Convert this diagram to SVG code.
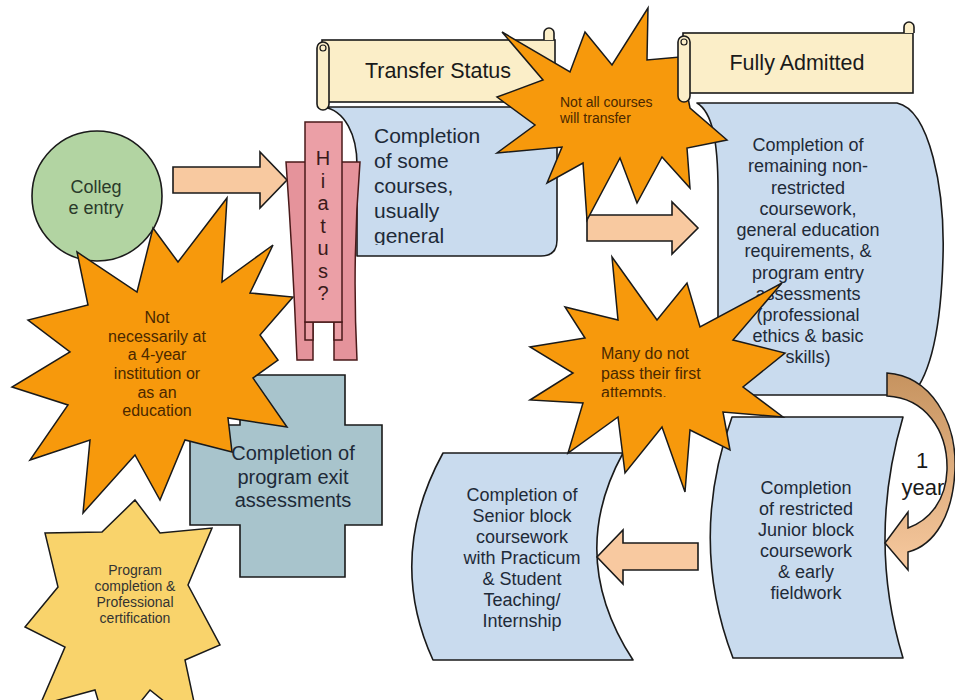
<svg xmlns="http://www.w3.org/2000/svg" width="955" height="700" viewBox="0 0 955 700">
<defs>
<style>
.t{font-family:"Liberation Sans",Arial,sans-serif}
.blue{fill:#c9dbee;stroke:#1a1a1a;stroke-width:1.6;stroke-linejoin:round}
.burst{fill:#f7990c;stroke:#1a1a1a;stroke-width:1.5;stroke-linejoin:miter}
.arrow{fill:#f8c9a0;stroke:#1a1a1a;stroke-width:1.6;stroke-linejoin:miter}
.cream{fill:#fbeec8;stroke:#1a1a1a;stroke-width:1.6}
.pink{fill:#e5939b;stroke:#4a1a1a;stroke-width:1.5}
.pink2{fill:#eb9fa6;stroke:#4a1a1a;stroke-width:1.5}
.bt{fill:#1e2a38;font-size:18px;text-anchor:middle}
.ot{fill:#4a2800}
</style>
<linearGradient id="tan" x1="0" y1="0" x2="0" y2="1">
<stop offset="0" stop-color="#c6935f"/>
<stop offset="1" stop-color="#f7c99f"/>
</linearGradient>
<clipPath id="c1"><rect x="300" y="100" width="260" height="145"/></clipPath>
<clipPath id="c3"><rect x="520" y="330" width="270" height="67"/></clipPath>
</defs>
<rect width="955" height="700" fill="#ffffff"/>

<g id="exit-assessments">
<path d="M240,375 L345,375 L345,425 L382,425 L382,525 L345,525 L345,577 L240,577 L240,525 L190,525 L190,425 L240,425 Z" fill="#a8c4cc" stroke="#1a1a1a" stroke-width="1.6"/>
<text class="t" font-size="20" fill="#1e2a38" text-anchor="middle"><tspan x="293" y="460">Completion of</tspan><tspan x="293" y="484">program exit</tspan><tspan x="293" y="507">assessments</tspan></text>
</g>

<g id="certification">
<polygon points="135,500 160,533 212,528 188,585 220,645 185,660 200,730 150,690 110,740 95,690 40,705 65,647 25,627 58,587 45,533 102,532" fill="#f9d36b" stroke="#1a1a1a" stroke-width="1.5"/>
<text class="t" font-size="14" fill="#333" text-anchor="middle"><tspan x="135" y="575">Program</tspan><tspan x="135" y="591">completion &amp;</tspan><tspan x="135" y="607">Professional</tspan><tspan x="135" y="623">certification</tspan></text>
</g>

<g id="college-entry">
<circle cx="97" cy="196" r="65" fill="#b2d4a2" stroke="#1a1a1a" stroke-width="1.6"/>
<text class="t" font-size="18" fill="#2a3a2a" text-anchor="middle"><tspan x="96" y="193">Colleg</tspan><tspan x="96" y="214">e entry</tspan></text>
</g>

<g id="some-courses">
<path class="blue" d="M323,107 L557,107 L557,240 Q557,256 541,256 L357,256 L357,165 C357,135 345,110 323,107 Z"/>
<g clip-path="url(#c1)">
<text class="t" font-size="21" fill="#1e2a38"><tspan x="374" y="143">Completion</tspan><tspan x="374" y="168">of some</tspan><tspan x="374" y="193">courses,</tspan><tspan x="374" y="218">usually</tspan><tspan x="374" y="243">general</tspan></text>
</g>
</g>

<g id="remaining-coursework">
<path class="blue" d="M697,103 L897,103 C930,110 945,190 943,257 C941,330 930,375 912,395 L718,395 L718,190 C718,140 712,112 697,103 Z"/>
<text class="t bt"><tspan x="808" y="151">Completion of</tspan><tspan x="808" y="172">remaining non-</tspan><tspan x="808" y="194">restricted</tspan><tspan x="808" y="215">coursework,</tspan><tspan x="808" y="236">general education</tspan><tspan x="808" y="257">requirements, &amp;</tspan><tspan x="808" y="279">program entry</tspan><tspan x="808" y="300">assessments</tspan><tspan x="808" y="321">(professional</tspan><tspan x="808" y="342">ethics &amp; basic</tspan><tspan x="808" y="363">skills)</tspan></text>
</g>

<g id="junior-block">
<path class="blue" d="M732,417 L903,417 Q867,540 903,658 L733,658 Q688,540 732,417 Z"/>
<text class="t bt"><tspan x="806" y="494">Completion</tspan><tspan x="806" y="515">of restricted</tspan><tspan x="806" y="536">Junior block</tspan><tspan x="806" y="557">coursework</tspan><tspan x="806" y="578">&amp; early</tspan><tspan x="806" y="599">fieldwork</tspan></text>
</g>

<g id="senior-block">
<path class="blue" d="M443,453 L623,453 Q566,557 633,660 L433,660 Q386,557 443,453 Z"/>
<text class="t bt"><tspan x="522" y="501">Completion of</tspan><tspan x="522" y="522">Senior block</tspan><tspan x="522" y="543">coursework</tspan><tspan x="522" y="564">with Practicum</tspan><tspan x="522" y="585">&amp; Student</tspan><tspan x="522" y="606">Teaching/</tspan><tspan x="522" y="627">Internship</tspan></text>
</g>

<g id="connectors">
<path class="arrow" d="M173,167 L260,167 L260,152 L287,180 L260,208 L260,193 L173,193 Z"/>
<path class="arrow" d="M587,215 L672,215 L672,202 L698,228 L672,254 L672,241 L587,241 Z"/>
<path class="arrow" d="M698,543 L623,543 L623,530 L597,557 L623,584 L623,570 L698,570 Z"/>
<path d="M887,373 C930,376 957,420 955,470 C953,515 935,545 908,552 L908,570 L885,543 L908,512 L908,528 C930,520 946,500 947,470 C948,430 925,398 887,396 Z" fill="url(#tan)" stroke="#1a1a1a" stroke-width="1.5"/>
<text class="t" font-size="22" fill="#1a1a1a" text-anchor="middle"><tspan x="922" y="468">1</tspan><tspan x="923" y="495">year</tspan></text>
</g>

<g id="note-not-necessarily">
<polygon class="burst" points="227,198 222,282 273,245 250,293 293,297 260,335 278,360 253,378 287,427 228,418 232,452 185,440 160,500 135,455 83,513 90,440 30,460 68,405 12,387 70,352 28,320 88,305 77,252 137,292 153,228 178,262"/>
<text class="t ot" font-size="16" text-anchor="middle"><tspan x="157" y="323">Not</tspan><tspan x="157" y="342">necessarily at</tspan><tspan x="157" y="360">a 4-year</tspan><tspan x="157" y="379">institution or</tspan><tspan x="157" y="398">as an</tspan><tspan x="157" y="416">education</tspan></text>
</g>

<g id="hiatus">
<path class="pink" d="M286,162 L360,162 Q352,260 357,360 L334,360 L334,322 L313,322 L313,360 L297,360 Q293,260 286,162 Z"/>
<rect class="pink2" x="305" y="322" width="8" height="18"/>
<rect class="pink2" x="334" y="322" width="8" height="18"/>
<rect class="pink2" x="305" y="122" width="37" height="200"/>
<text class="t" font-size="20" fill="#3a1a1a" text-anchor="middle"><tspan x="323" y="165">H</tspan><tspan x="323" y="187.5">i</tspan><tspan x="323" y="210">a</tspan><tspan x="323" y="232.5">t</tspan><tspan x="323" y="255">u</tspan><tspan x="323" y="277.5">s</tspan><tspan x="323" y="300">?</tspan></text>
</g>

<g id="transfer-status">
<rect class="cream" x="322" y="40" width="233" height="62"/>
<path class="cream" d="M544,40 L544,33 A5,5 0 0 1 554,33 L554,40"/>
<rect class="cream" x="317" y="42" width="12" height="68" rx="6"/>
<circle cx="323" cy="48" r="3" fill="none" stroke="#1a1a1a" stroke-width="1.2"/>
<text class="t" font-size="21.5" fill="#1a1a1a" text-anchor="middle" x="438" y="78">Transfer Status</text>
</g>

<g id="note-not-all">
<polygon class="burst" points="502,32 570,72 585,32 612,65 648,8 647,60 680,57 690,108 727,140 687,148 690,188 662,157 637,203 620,158 587,220 583,163 547,183 562,147 497,153 535,125 497,97 543,80"/>
<text class="t ot" font-size="14"><tspan x="560" y="107">Not all courses</tspan><tspan x="560" y="123">will transfer</tspan></text>
</g>

<g id="fully-admitted">
<rect class="cream" x="683" y="33" width="230" height="60"/>
<path class="cream" d="M904,33 L904,27 A5,5 0 0 1 914,27 L914,33"/>
<rect class="cream" x="678" y="36" width="12" height="66" rx="6"/>
<circle cx="684" cy="42" r="3" fill="none" stroke="#1a1a1a" stroke-width="1.2"/>
<text class="t" font-size="21.5" fill="#1a1a1a" text-anchor="middle" x="797" y="70">Fully Admitted</text>
</g>

<g id="note-many-do-not">
<polygon class="burst" points="612,257 657,320 687,283 700,327 782,283 733,340 785,353 743,387 783,417 723,412 730,450 690,430 685,492 662,427 625,473 618,417 568,453 583,403 530,400 573,373 530,347 585,338 565,307 618,320"/>
<g clip-path="url(#c3)">
<text class="t ot" font-size="16"><tspan x="601" y="359">Many do not</tspan><tspan x="601" y="379">pass their first</tspan><tspan x="601" y="398">attempts.</tspan></text>
</g>
</g>
</svg>
